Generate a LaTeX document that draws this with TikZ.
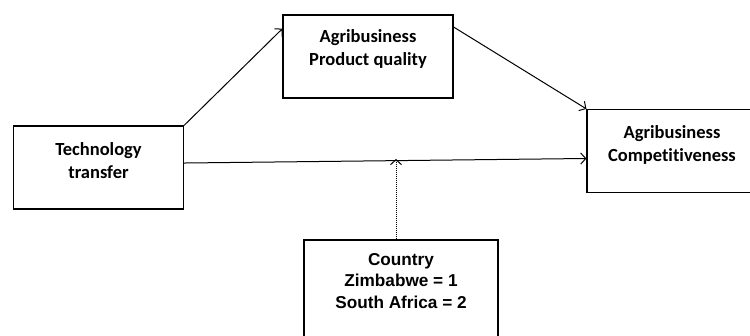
\documentclass[tikz,border=0pt]{standalone}
\usepackage{fontspec}
\setmainfont{Carlito}[Ligatures=NoCommon]
\newfontfamily\arialfont{Liberation Sans}
\usetikzlibrary{arrows.meta,calc}

\begin{document}
\begin{tikzpicture}[
  x=1pt,
  y=-1pt,
  box/.style={draw=black,line width=1.2pt,minimum width=170pt,minimum height=83pt,inner sep=0pt},
  lab/.style={font=\fontsize{18.5}{23}\selectfont\bfseries,align=center},
  clab/.style={font=\arialfont\fontsize{17.2}{21.5}\selectfont\bfseries,align=center},
  path/.style={draw=black,line width=1pt,-{Straight Barb[length=5pt,width=11pt]}},
  modpath/.style={path,dash pattern=on 1pt off 1pt}
]
\useasboundingbox (0,0) rectangle (750,335);

% boxes
\node[box,label={[lab,yshift=7pt]center:{Technology\\transfer}}] (tt) at (98.5,167.5) {};
\node[box,label={[lab,yshift=8pt]center:{Agribusiness\\Product quality}}] (pq) at (368,56.5) {};
\node[box,label={[lab,yshift=6pt]center:{Agribusiness\\Competitiveness}}] (comp) at (672,151) {};
\node[box,minimum width=194pt,minimum height=100pt,
  label={[clab,yshift=9pt]center:{Country\\Zimbabwe = 1\\South Africa = 2}}] (country) at (401,290) {};

% paths
\draw[path] (tt.north east) -- (pq.162);
\draw[path] (pq.19) -- (comp.north west);
\draw[path] (tt.3) -- (comp.185);
\coordinate (mod) at (396,159);
\draw[modpath] (country.north -| mod) -- (mod);
\end{tikzpicture}
\end{document}
